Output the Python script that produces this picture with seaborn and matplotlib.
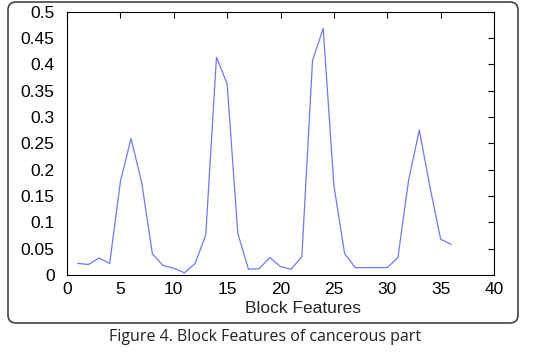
import numpy as np
import pandas as pd
import seaborn as sns
import matplotlib.pyplot as plt
from matplotlib.patches import FancyBboxPatch

# =========================
# DADOS
# =========================

blocos = list(range(1, 37))
valores = [0.022, 0.020, 0.032, 0.022, 0.177, 0.259, 0.175, 0.040, 0.018, 0.013,
           0.004, 0.022, 0.076, 0.413, 0.363, 0.079, 0.011, 0.012, 0.033, 0.016,
           0.011, 0.035, 0.407, 0.468, 0.170, 0.041, 0.014, 0.014, 0.014, 0.014,
           0.033, 0.180, 0.275, 0.167, 0.068, 0.058]
ticks_x = [0, 5, 10, 15, 20, 25, 30, 35, 40]
ticks_y = [0, 0.05, 0.1, 0.15, 0.2, 0.25, 0.3, 0.35, 0.4, 0.45, 0.5]
rotulos_y = ['0', '0.05', '0.1', '0.15', '0.2', '0.25', '0.3', '0.35', '0.4', '0.45', '0.5']

df = pd.DataFrame({'bloco': blocos, 'valor': valores})

# =========================
# FIGURA
# =========================

sns.set_style('white')
plt.rcParams['font.family'] = ['Liberation Sans', 'DejaVu Sans']

fig = plt.figure(figsize=(5.33, 3.54), dpi=100)

# moldura arredondada
caixa = FancyBboxPatch((8 / 100, (354 - 323) / 100), 5.10, 3.21,
                       boxstyle='round,pad=0,rounding_size=0.08',
                       transform=fig.dpi_scale_trans, facecolor='none',
                       edgecolor='#444444', linewidth=1.2, zorder=-1)
fig.patches.append(caixa)

ax = fig.add_axes([67 / 533, 1 - 275 / 354, 427 / 533, 263.5 / 354])

sns.lineplot(data=df, x='bloco', y='valor', ax=ax, color='#6e78ff', linewidth=0.9)

ax.set_xlim(0, 40)
ax.set_ylim(0, 0.5)
ax.set_xticks(ticks_x)
ax.set_yticks(ticks_y)
ax.set_yticklabels(rotulos_y)
ax.tick_params(direction='in', length=4, width=0.8, labelsize=12.5,
               top=True, right=True, colors='black')
ax.tick_params(axis='y', pad=9)
ax.tick_params(axis='x', pad=5)
for s in ax.spines.values():
    s.set_color('black')
    s.set_linewidth(0.8)

ax.set_ylabel('')
ax.set_xlabel('Block Features', fontsize=12.5)
ax.xaxis.set_label_coords(0.553, -0.1)

fig.text(0.497, 0.048, 'Figure 4. Block Features of cancerous part',
         ha='center', va='center', fontsize=11.5, color='#222222',
         family=['Open Sans', 'DejaVu Sans'])

plt.savefig('out.png', dpi=100)
